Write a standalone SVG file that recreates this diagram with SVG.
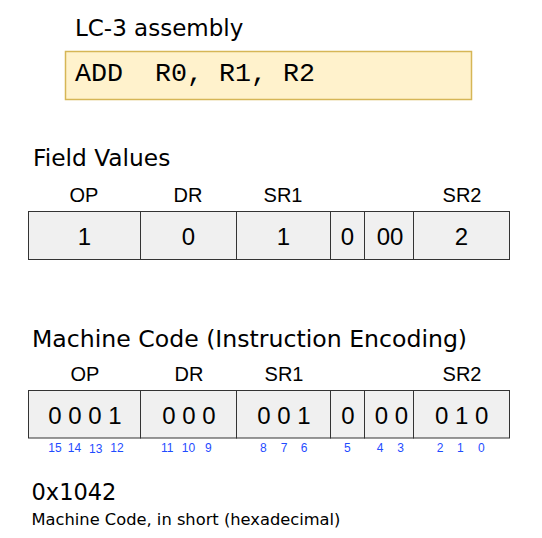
<svg xmlns="http://www.w3.org/2000/svg" width="542" height="538" viewBox="0 0 542 538">
<style>
.title{font-family:"DejaVu Sans",Verdana,sans-serif;font-size:23.3px;fill:#000}
.sub{font-family:"DejaVu Sans",Verdana,sans-serif;font-size:16.3px;fill:#000}
.code{font-family:"Liberation Mono","Courier New",monospace;font-size:26.67px;fill:#000}
.lbl{font-family:"Liberation Sans",Arial,sans-serif;font-size:20px;fill:#000;text-anchor:middle}
.val{font-family:"Liberation Sans",Arial,sans-serif;font-size:24px;fill:#000;text-anchor:middle}
.bit{font-family:"Liberation Sans",Arial,sans-serif;font-size:12px;fill:#1f4cff;text-anchor:middle}
.cell{fill:#f0f0f0;stroke:#333;stroke-width:1}
.asm{fill:#fff2cc;stroke:#d6b656;stroke-width:1.5}
</style>
<g id="assembly">
<text class="title" x="75" y="35.7" style="font-size:23px">LC-3 assembly</text>
<rect class="asm" x="65.5" y="51.5" width="406" height="48"/>
<text class="code" x="75" y="81" xml:space="preserve">ADD  R0, R1, R2</text>
</g>
<g id="field-values">
<text class="title" x="33" y="166">Field Values</text>
<text class="lbl" x="84" y="201.7">OP</text>
<text class="lbl" x="188" y="201.7">DR</text>
<text class="lbl" x="283" y="201.7">SR1</text>
<text class="lbl" x="462" y="201.7">SR2</text>
<rect class="cell" x="28.5" y="211.5" width="112" height="48"/>
<rect class="cell" x="140.5" y="211.5" width="96" height="48"/>
<rect class="cell" x="236.5" y="211.5" width="94" height="48"/>
<rect class="cell" x="330.5" y="211.5" width="34" height="48"/>
<rect class="cell" x="364.5" y="211.5" width="49" height="48"/>
<rect class="cell" x="413.5" y="211.5" width="96" height="48"/>
<text class="val" x="84.5" y="245">1</text>
<text class="val" x="188.5" y="245">0</text>
<text class="val" x="283.5" y="245">1</text>
<text class="val" x="347.5" y="245">0</text>
<text class="val" x="390" y="245">00</text>
<text class="val" x="461.5" y="245">2</text>
</g>
<g id="machine-code">
<text class="title" x="32" y="347" style="font-size:23.6px">Machine Code (Instruction Encoding)</text>
<text class="lbl" x="85" y="380.7">OP</text>
<text class="lbl" x="189" y="380.7">DR</text>
<text class="lbl" x="284" y="380.7">SR1</text>
<text class="lbl" x="462" y="380.7">SR2</text>
<rect class="cell" x="28.5" y="390.5" width="112" height="47.5"/>
<rect class="cell" x="140.5" y="390.5" width="96" height="47.5"/>
<rect class="cell" x="236.5" y="390.5" width="94" height="47.5"/>
<rect class="cell" x="330.5" y="390.5" width="34" height="47.5"/>
<rect class="cell" x="364.5" y="390.5" width="49" height="47.5"/>
<rect class="cell" x="413.5" y="390.5" width="96" height="47.5"/>
<text class="val" x="85" y="424.3" xml:space="preserve">0 0 0 1</text>
<text class="val" x="189" y="424.3" xml:space="preserve">0 0 0</text>
<text class="val" x="284" y="424.3" xml:space="preserve">0 0 1</text>
<text class="val" x="348" y="424.3">0</text>
<text class="val" x="391.5" y="424.3" xml:space="preserve">0 0</text>
<text class="val" x="461.7" y="424.3" xml:space="preserve">0 1 0</text>
</g>
<g id="bit-numbers">
<text class="bit" x="55" y="451.5">15</text>
<text class="bit" x="74.5" y="451.5">14</text>
<text class="bit" x="95.8" y="453">13</text>
<text class="bit" x="117" y="451.5">12</text>
<text class="bit" x="167.3" y="451.5">11</text>
<text class="bit" x="188.4" y="451.5">10</text>
<text class="bit" x="208.3" y="451.5">9</text>
<text class="bit" x="263.4" y="451.5">8</text>
<text class="bit" x="284.1" y="451.5">7</text>
<text class="bit" x="304.2" y="451.5">6</text>
<text class="bit" x="347.3" y="451.5">5</text>
<text class="bit" x="380" y="451.5">4</text>
<text class="bit" x="400.7" y="451.5">3</text>
<text class="bit" x="440" y="451.5">2</text>
<text class="bit" x="460.3" y="451.5">1</text>
<text class="bit" x="481.3" y="451.5">0</text>
</g>
<g id="hex">
<text class="title" x="31.5" y="500" style="font-size:22.5px">0x1042</text>
<text class="sub" x="31.5" y="525">Machine Code, in short (hexadecimal)</text>
</g>
</svg>
